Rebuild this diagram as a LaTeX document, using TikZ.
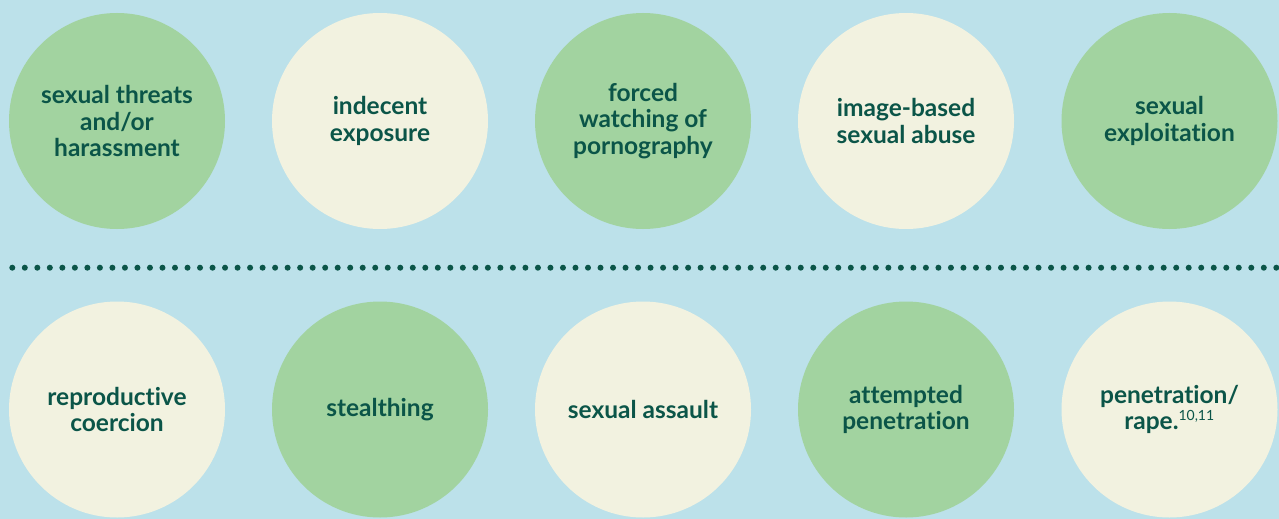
\documentclass[tikz,border=0pt]{standalone}
\usepackage{fontspec}
\setmainfont{Lato}[Ligatures={NoCommon}]
\definecolor{bgblue}{HTML}{BCE1EA}
\definecolor{leafgreen}{HTML}{A2D3A0}
\definecolor{cream}{HTML}{F2F2E0}
\definecolor{inkgreen}{HTML}{0B5548}
\tikzset{
  bubble/.style={circle, minimum size=216pt, inner sep=0pt, align=center,
    text=inkgreen, font=\bfseries\fontsize{24.5}{26.6}\selectfont},
  greenbubble/.style={bubble, fill=leafgreen},
  creambubble/.style={bubble, fill=cream},
}
\begin{document}
\begin{tikzpicture}[x=1pt,y=-1pt]
  % canvas
  \fill[bgblue] (0,0) rectangle (1279,519);
  \useasboundingbox (0,0) rectangle (1279,519);

  % upper row
  \node[greenbubble] (threats)  at (117,121)   {sexual threats\\and/or\\harassment};
  \node[creambubble] (exposure) at (380,121)   {indecent\\exposure};
  \node[greenbubble] (porn)     at (643,121)   {forced\\watching of\\pornography};
  \node[creambubble] (image)    at (906,121)   {image-based\\sexual abuse};
  \node[greenbubble] (exploit)  at (1169.5,121) {sexual\\exploitation};

  % dotted divider
  \foreach \i in {0,...,101}
    \fill[inkgreen] (12.3+\i*12.515,267.7) circle (3);

  % lower row
  \node[creambubble] (coercion) at (117,409.5)   {reproductive\\coercion};
  \node[greenbubble] (stealth)  at (380,409.5)   {stealthing};
  \node[creambubble] (assault)  at (643,409.5)   {sexual assault};
  \node[greenbubble] (attempt)  at (906,409.5)   {attempted\\penetration};
  \node[creambubble] (rape)     at (1169.5,409.5) {penetration/\\rape.\textsuperscript{\fontsize{14}{14}\selectfont\mdseries 10,11}};
\end{tikzpicture}
\end{document}
